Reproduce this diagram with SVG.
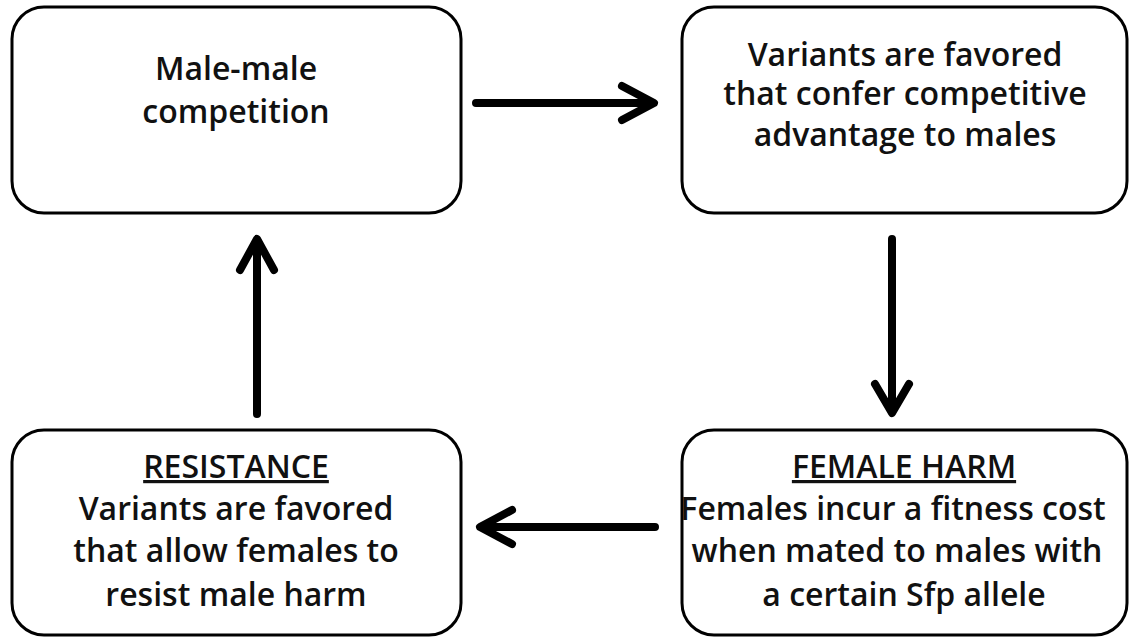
<svg xmlns="http://www.w3.org/2000/svg" width="1129" height="639" viewBox="0 0 1129 639">
<style>
.box{fill:#fff;stroke:#000;stroke-width:3}
.t{font-family:"Open Sans","Liberation Sans",sans-serif;font-size:32px;font-weight:600;fill:#111;text-anchor:middle}
.u{text-decoration:underline}
.c{fill:none;stroke:#000;stroke-width:8;stroke-linecap:round;stroke-linejoin:round}
</style>
<rect width="1129" height="639" fill="#fff"/>
<g id="node-competition">
<rect class="box" x="12" y="7" width="449" height="206" rx="32"/>
<text class="t" x="236" y="80">Male-male</text>
<text class="t" x="236" y="123">competition</text>
</g>
<g id="node-variants-males">
<rect class="box" x="682" y="7" width="445" height="206" rx="32"/>
<text class="t" x="905" y="66">Variants are favored</text>
<text class="t" x="905" y="105">that confer competitive</text>
<text class="t" x="905" y="146">advantage to males</text>
</g>
<g id="node-female-harm">
<rect class="box" x="682" y="430" width="445" height="205" rx="32"/>
<text class="t u" x="904" y="478">FEMALE HARM</text>
<text class="t" x="893" y="520">Females incur a fitness cost</text>
<text class="t" x="897" y="562">when mated to males with</text>
<text class="t" x="904" y="606">a certain Sfp allele</text>
</g>
<g id="node-resistance">
<rect class="box" x="12" y="430" width="449" height="205" rx="32"/>
<text class="t u" x="236" y="478">RESISTANCE</text>
<text class="t" x="236" y="520">Variants are favored</text>
<text class="t" x="236" y="562">that allow females to</text>
<text class="t" x="236" y="606">resist male harm</text>
</g>
<g id="connectors">
<path class="c" d="M476 103H652M622 86L654 103L622 120"/>
<path class="c" d="M892 239V412M875 384L892 413L909 384"/>
<path class="c" d="M655 527H482M512 510L480 527L512 544"/>
<path class="c" d="M257 414V240M240 270L257 239L274 270"/>
</g>
</svg>
